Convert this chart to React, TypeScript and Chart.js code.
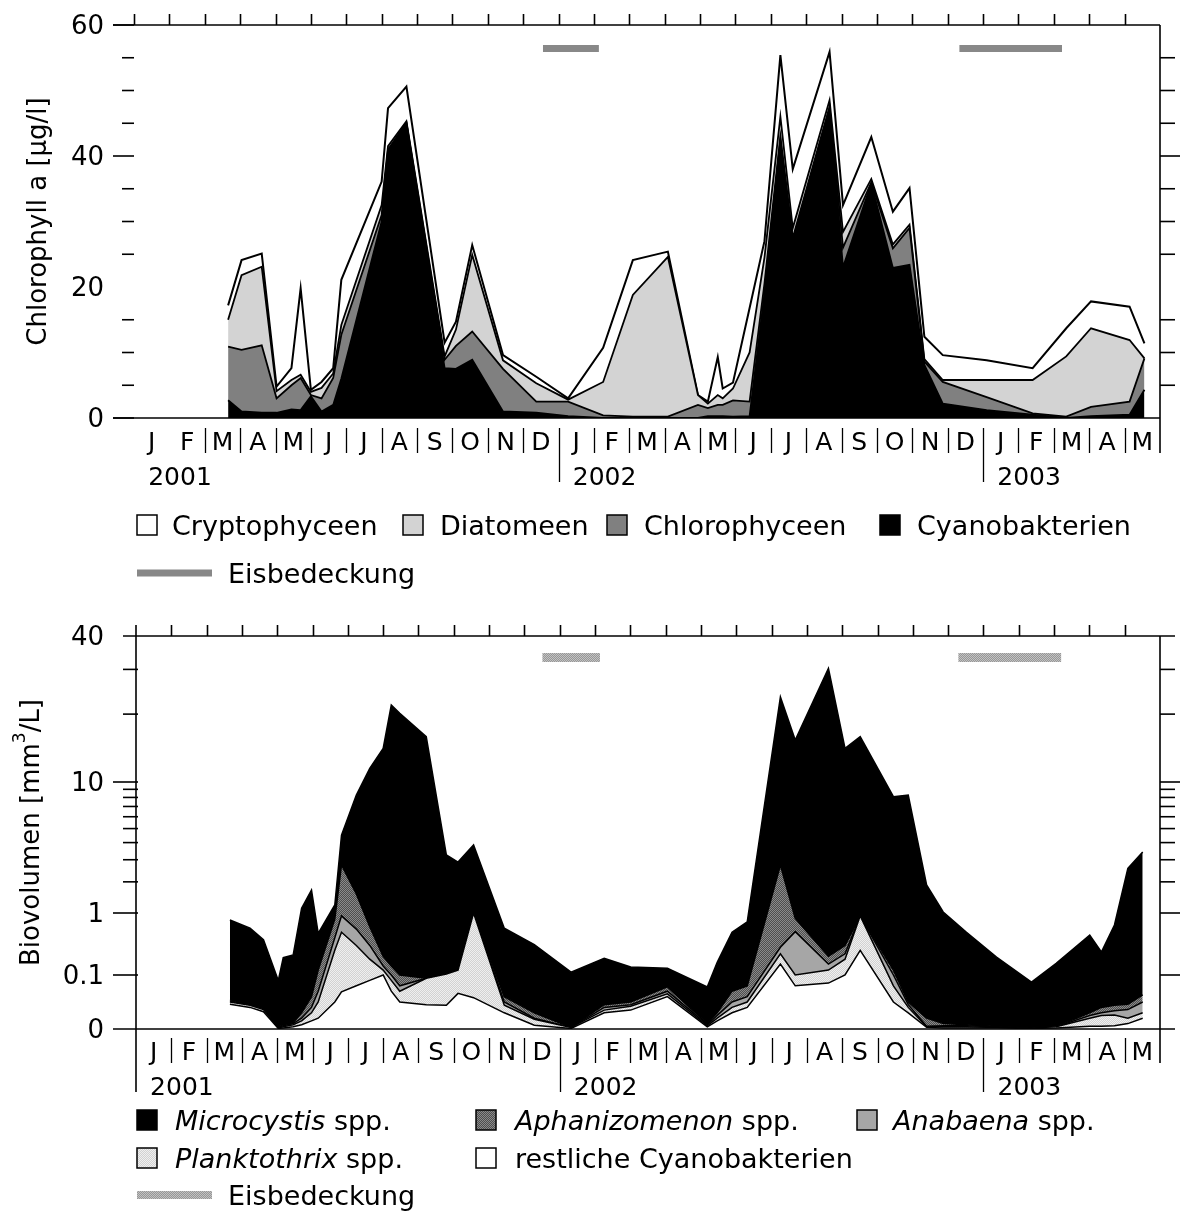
import React, { useEffect, useRef } from 'react';
import { Chart, registerables, LinearScale } from 'chart.js';

Chart.register(...registerables);

// ---------------- data ----------------
const MONTH_LABELS = ['J','F','M','A','M','J','J','A','S','O','N','D','J','F','M','A','M','J','J','A','S','O','N','D','J','F','M','A','M'];
const YEAR_LABELS = ['2001', '2002', '2003'];
const YEAR_START_MONTHS = [0, 12, 24];

// Chlorophyll a (µg/l), x = months since Jan 2001
const CHL_MONTHS = [2.66, 3.04, 3.61, 4.03, 4.45, 4.71, 5.0, 5.3, 5.63, 5.86, 7.0, 7.18, 7.7, 8.78, 9.1, 9.56, 10.43, 11.37, 12.27, 13.26, 14.1, 15.09, 15.94, 16.22, 16.5, 16.64, 16.93, 17.4, 17.82, 18.27, 18.62, 19.66, 20.04, 20.84, 21.45, 21.92, 22.34, 22.86, 24.1, 25.4, 26.35, 27.05, 28.14, 28.56];
const CHL_CYANO = [2.7, 1.0, 0.8, 0.8, 1.3, 1.2, 3.3, 1.0, 2.0, 6.0, 30.0, 40.7, 45.0, 7.6, 7.5, 8.9, 1.0, 0.8, 0.3, 0, 0, 0, 0, 0.3, 0.3, 0.3, 0.2, 0.3, 19, 42.5, 27, 47.3, 23, 35.8, 22.9, 23.4, 8.1, 2.2, 1.2, 0.5, 0, 0.3, 0.5, 4.3];
const CHL_CHLORO = [8.2, 9.4, 10.3, 2.2, 3.7, 4.9, 0.2, 2.0, 4.1, 6.7, 1.0, 0.3, 0.1, 1.3, 3.5, 4.3, 6.5, 1.7, 2.2, 0.4, 0.2, 0.2, 2.0, 1.2, 1.7, 1.7, 2.5, 2.2, 1.5, 0.5, 0.5, 0.2, 3.0, 0.2, 3.0, 5.6, 0.5, 3.3, 2.0, 0.2, 0.2, 1.4, 2.0, 4.8];
const CHL_DIATOM = [4.1, 11.4, 12.0, 1.1, 0.8, 0.5, 0.5, 1.6, 0.7, 1.5, 1.5, 0.5, 0.2, 0.5, 2.5, 11.7, 1.3, 2.8, 0.3, 5.1, 18.6, 24.4, 1.5, 0.7, 1.5, 1.0, 1.8, 7.5, 4.0, 3.0, 1.5, 1.0, 2.4, 0.5, 0.6, 0.5, 0.4, 0.3, 2.6, 5.1, 9.2, 12.0, 9.4, 0];
const CHL_CRYPTO = [2.2, 2.3, 2.0, 0.7, 1.8, 13.2, 0.3, 0.9, 0.8, 6.9, 3.6, 5.8, 5.3, 2.1, 1.2, 1.5, 0.8, 1.0, 0.2, 5.2, 5.3, 0.8, 0, 0.3, 5.8, 1.5, 0.9, 6.8, 2.5, 9.4, 9.0, 7.4, 4.1, 6.4, 5.0, 5.6, 3.4, 3.8, 3.0, 1.8, 4.3, 4.1, 5.1, 2.3];
const CHL_ICE_PERIODS = [[11.56, 13.14], [23.33, 26.23]];
const CHL_ICE_LEVEL = 56.4;
const CHL_TICK_LABELS = [0, 20, 40, 60];
const CHL_LONG_TICKS = [0, 40, 60];
const CHL_MINOR_TICKS = [5, 10, 15, 25, 30, 35, 45, 50, 55];

// Biovolume (mm³/L)
const BV_MONTHS = [2.66, 3.23, 3.61, 4.03, 4.17, 4.45, 4.69, 4.97, 5.16, 5.63, 5.82, 6.24, 6.62, 7.0, 7.23, 7.47, 8.22, 8.79, 9.12, 9.56, 10.43, 11.28, 12.32, 13.26, 14.01, 15.05, 16.18, 16.46, 16.88, 17.31, 18.25, 18.67, 19.61, 20.08, 20.51, 21.45, 21.87, 22.39, 22.86, 23.52, 24.37, 25.36, 26.06, 27.01, 27.34, 27.71, 28.09, 28.51];
const BV_MICRO = [0.716, 0.524, 0.332, 0.086, 0.182, 0.198, 1.1, 1.64, 0.35, 0.42, 1.78, 6.73, 11.03, 14.13, 21.63, 20.05, 16.0, 3.15, 2.76, 2.85, 0.51, 0.28, 0.108, 0.141, 0.085, 0.05, 0.068, 0.13, 0.42, 0.64, 20.7, 14.76, 30.09, 14.03, 15.19, 7.97, 8.24, 1.86, 1.016, 0.482, 0.19, 0.085, 0.15, 0.41, 0.195, 0.596, 2.53, 3.36];
const BV_APHAN = [0.002, 0.001, 0.001, 0.001, 0.002, 0.002, 0.01, 0.02, 0.05, 0.4, 1.835, 1.015, 0.3, 0.06, 0.04, 0.02, 0, 0, 0, 0, 0.01, 0.01, 0, 0.005, 0.005, 0.008, 0.002, 0.005, 0.02, 0.02, 2.455, 0.32, 0.05, 0.08, 0, 0.02, 0.005, 0.015, 0.004, 0.002, 0.001, 0, 0, 0.005, 0.01, 0.01, 0.01, 0.013];
const BV_ANAB = [0.002, 0.001, 0.001, 0.001, 0.002, 0.002, 0.005, 0.01, 0.02, 0.15, 0.41, 0.25, 0.12, 0.02, 0.01, 0.01, 0, 0, 0, 0, 0.006, 0.002, 0, 0.005, 0.003, 0.005, 0.002, 0.005, 0.01, 0.01, 0.06, 0.4, 0.03, 0.04, 0, 0.02, 0.005, 0.001, 0.002, 0.002, 0.001, 0, 0, 0.005, 0.005, 0.008, 0.016, 0.02];
const BV_PLANK = [0.004, 0.004, 0.004, 0.001, 0.002, 0.004, 0.007, 0.015, 0.03, 0.2, 0.42, 0.22, 0.09, 0.02, 0.02, 0.02, 0.049, 0.06, 0.054, 0.94, 0.014, 0.011, 0.002, 0.005, 0.007, 0.005, 0.002, 0.005, 0.01, 0.01, 0.07, 0.02, 0.035, 0.08, 0.65, 0.03, 0.01, 0.001, 0.002, 0.002, 0.001, 0.001, 0.002, 0.015, 0.02, 0.02, 0.01, 0.01];
const BV_REST = [0.046, 0.04, 0.032, 0.001, 0.002, 0.004, 0.008, 0.015, 0.02, 0.05, 0.069, 0.08, 0.09, 0.1, 0.07, 0.05, 0.045, 0.044, 0.066, 0.058, 0.03, 0.007, 0.001, 0.03, 0.035, 0.06, 0.004, 0.015, 0.03, 0.04, 0.15, 0.08, 0.085, 0.1, 0.25, 0.05, 0.03, 0.003, 0.002, 0.002, 0.002, 0.001, 0.002, 0.005, 0.005, 0.006, 0.01, 0.02];
const BV_ICE_PERIODS = [[11.51, 13.14], [23.29, 26.2]];
const BV_ICE_LEVEL = 33.3;
const BV_TICK_LABELS = [0, 0.1, 1, 10, 40];
const BV_MINOR_TICKS = [2, 3, 4, 5, 6, 7, 8, 9, 20, 30];

// ---------------- custom biovolume axis ----------------
const LOG = Math.log10;
const BIO_SPAN = 393;
function bioHeight(v: number): number {
  if (v <= 0) return 0;
  if (v <= 0.1) return 54 * v / 0.1;
  if (v <= 1) return 54 + 62 * LOG(v / 0.1);
  if (v <= 10) return 116 + 131 * LOG((v + 1) / 2) / LOG(5.5);
  return 247 + 146 * LOG((v + 5) / 15) / LOG(3);
}
function bioValue(h: number): number {
  if (h <= 0) return 0;
  if (h <= 54) return 0.1 * h / 54;
  if (h <= 116) return 0.1 * Math.pow(10, (h - 54) / 62);
  if (h <= 247) return 2 * Math.pow(5.5, (h - 116) / 131) - 1;
  return 15 * Math.pow(3, (h - 247) / 146) - 5;
}

class BioScale extends LinearScale {
  static id = 'biovolume';
  static defaults = {};
  getPixelForValue(value: any) {
    if (value === null || value === undefined || Number.isNaN(+value)) return NaN;
    return this.getPixelForDecimal(bioHeight(+value) / BIO_SPAN);
  }
  getValueForPixel(pixel: number) {
    return bioValue(this.getDecimalForPixel(pixel) * BIO_SPAN);
  }
}
Chart.register(BioScale);

// ---------------- drawing helpers ----------------
const FONT = '"DejaVu Sans", "Liberation Sans", Arial, sans-serif';
const MONTH_FONT = 25;
const LEGEND_FONT = 27;

function hl(ctx: CanvasRenderingContext2D, x1: number, x2: number, y: number) {
  ctx.beginPath(); ctx.moveTo(x1, y); ctx.lineTo(x2, y); ctx.stroke();
}
function vl(ctx: CanvasRenderingContext2D, x: number, y1: number, y2: number) {
  ctx.beginPath(); ctx.moveTo(x, y1); ctx.lineTo(x, y2); ctx.stroke();
}
function capText(ctx: CanvasRenderingContext2D, text: string, x: number, yc: number, size: number, align: CanvasTextAlign = 'center', style = '') {
  ctx.font = `${style}${size}px ${FONT}`;
  ctx.textAlign = align;
  ctx.textBaseline = 'alphabetic';
  ctx.fillText(text, x, yc + size * 0.36);
}
function drawMonthRow(ctx: CanvasRenderingContext2D, xs: any, rowY: number, sepTop: number, sepBot: number, longBot: number, firstSep: number, lastSep: number, yearY: number) {
  ctx.fillStyle = '#000';
  ctx.strokeStyle = '#000';
  ctx.lineWidth = 1.3;
  MONTH_LABELS.forEach((lab, i) => capText(ctx, lab, xs.getPixelForValue(i + 0.5), rowY, MONTH_FONT));
  for (let m = firstSep; m <= lastSep; m++) {
    const x = Math.round(xs.getPixelForValue(m)) + 0.5;
    vl(ctx, x, sepTop, YEAR_START_MONTHS.includes(m) ? longBot : sepBot);
  }
  YEAR_LABELS.forEach((lab, i) => capText(ctx, lab, xs.getPixelForValue(YEAR_START_MONTHS[i] + 1.3), yearY, MONTH_FONT));
}
function legendBox(ctx: CanvasRenderingContext2D, x: number, y: number, fill: any) {
  ctx.fillStyle = fill;
  ctx.fillRect(x, y - 10, 20, 20);
  ctx.strokeStyle = '#000';
  ctx.lineWidth = 1.5;
  ctx.strokeRect(x, y - 10, 20, 20);
}
function legendLabel(ctx: CanvasRenderingContext2D, x: number, y: number, italic: string, normal: string) {
  ctx.fillStyle = '#000';
  let dx = 0;
  if (italic) {
    capText(ctx, italic, x, y, LEGEND_FONT, 'left', 'italic ');
    dx = ctx.measureText(italic).width;
  }
  capText(ctx, normal, x + dx, y, LEGEND_FONT, 'left');
}
function legendIce(ctx: CanvasRenderingContext2D, x: number, y: number, color: any, width: number) {
  ctx.strokeStyle = color;
  ctx.lineWidth = width;
  ctx.lineCap = 'butt';
  hl(ctx, x, x + 75, y);
}

function makeChecker(a: string, b: string) {
  const c = document.createElement('canvas');
  c.width = 2; c.height = 2;
  const g = c.getContext('2d')!;
  g.fillStyle = a; g.fillRect(0, 0, 2, 2);
  g.fillStyle = b; g.fillRect(0, 0, 1, 1); g.fillRect(1, 1, 1, 1);
  return g.createPattern(c, 'repeat')!;
}

function area(label: string, xs: number[], ys: number[], fill: any, fillMode: any, width: number) {
  return {
    label,
    data: xs.map((x, i) => ({ x, y: ys[i] })),
    backgroundColor: fill,
    borderColor: '#000',
    borderWidth: width,
    fill: fillMode,
    pointRadius: 0,
    tension: 0,
    borderJoinStyle: 'miter' as const,
  };
}
function iceSets(periods: number[][], level: number, color: any, width: number) {
  return periods.map((p, i) => ({
    label: 'Eisbedeckung',
    data: p.map((x) => ({ x, y: level })),
    borderColor: color,
    backgroundColor: color,
    borderWidth: width,
    borderCapStyle: 'butt' as const,
    fill: false,
    pointRadius: 0,
    stack: 'ice' + i,
  }));
}

export default function App() {
  const topRef = useRef<HTMLCanvasElement>(null);
  const botRef = useRef<HTMLCanvasElement>(null);

  useEffect(() => {
    const aphanPat = makeChecker('#4e4e4e', '#8a8a8a');
    const plankPat = makeChecker('#d2d2d2', '#efefef');
    const icePat = makeChecker('#979797', '#c2c2c2');
    const DIATOM = '#d3d3d3';
    const CHLORO = '#808080';
    const ANAB = '#a6a6a6';

    const topFrame = {
      id: 'topFrame',
      afterDraw(chart: any) {
        const ctx: CanvasRenderingContext2D = chart.ctx;
        const ca = chart.chartArea;
        const xs = chart.scales.x;
        const ys = chart.scales.y;
        ctx.save();
        ctx.strokeStyle = '#000';
        ctx.lineWidth = 1.6;
        hl(ctx, ca.left - 21, ca.right, ca.top);
        hl(ctx, ca.left - 21, ca.right, ca.bottom);
        vl(ctx, ca.right, ca.top, ca.bottom + 35);
        CHL_LONG_TICKS.forEach((v) => hl(ctx, ca.left - 21, ca.left, ys.getPixelForValue(v)));
        CHL_MINOR_TICKS.forEach((v) => {
          const y = ys.getPixelForValue(v);
          hl(ctx, ca.left - 12, ca.left, y);
          hl(ctx, ca.right, ca.right + 15, y);
        });
        hl(ctx, ca.right, ca.right + 20, ys.getPixelForValue(40));
        for (let m = 0; m < MONTH_LABELS.length; m++) {
          const x = Math.round(xs.getPixelForValue(m)) + 0.5;
          vl(ctx, x, ca.top - 11, ca.top);
        }
        ctx.fillStyle = '#000';
        CHL_TICK_LABELS.forEach((v) => capText(ctx, String(v), 104, ys.getPixelForValue(v), 26, 'right'));
        ctx.save();
        ctx.translate(37, (ca.top + ca.bottom) / 2);
        ctx.rotate(-Math.PI / 2);
        capText(ctx, 'Chlorophyll a [µg/l]', 0, 0, 26, 'center');
        ctx.restore();
        drawMonthRow(ctx, xs, 441, 428, 453, 482, 2, 28, 476);
        // legend
        const L1 = 525;
        legendBox(ctx, 137, L1, '#fff'); legendLabel(ctx, 172, L1, '', 'Cryptophyceen');
        legendBox(ctx, 403, L1, DIATOM); legendLabel(ctx, 440, L1, '', 'Diatomeen');
        legendBox(ctx, 607, L1, CHLORO); legendLabel(ctx, 644, L1, '', 'Chlorophyceen');
        legendBox(ctx, 880, L1, '#000'); legendLabel(ctx, 917, L1, '', 'Cyanobakterien');
        legendIce(ctx, 137, 573, '#888', 7);
        legendLabel(ctx, 228, 573, '', 'Eisbedeckung');
        ctx.restore();
      },
    };

    const botFrame = {
      id: 'botFrame',
      afterDraw(chart: any) {
        const ctx: CanvasRenderingContext2D = chart.ctx;
        const ca = chart.chartArea;
        const xs = chart.scales.x;
        const ys = chart.scales.y;
        ctx.save();
        ctx.strokeStyle = '#000';
        ctx.lineWidth = 1.6;
        hl(ctx, ca.left - 13, ca.right + 15, ca.top);
        hl(ctx, ca.left - 23, ca.right + 15, ca.bottom);
        vl(ctx, ca.left, ca.top - 11, ca.bottom + 63);
        vl(ctx, ca.right, ca.top, ca.bottom + 34);
        BV_TICK_LABELS.forEach((v) => {
          if (v === 0 || v === 40) return;
          const y = ys.getPixelForValue(v);
          hl(ctx, ca.left - 23, ca.left + 2, y);
          hl(ctx, ca.right, ca.right + 20, y);
        });
        BV_MINOR_TICKS.forEach((v) => {
          const y = ys.getPixelForValue(v);
          hl(ctx, ca.left - 13, ca.left + 2, y);
          hl(ctx, ca.right, ca.right + 15, y);
        });
        for (let m = 1; m < MONTH_LABELS.length; m++) {
          const x = Math.round(xs.getPixelForValue(m)) + 0.5;
          vl(ctx, x, ca.top - 11, ca.top);
        }
        ctx.fillStyle = '#000';
        BV_TICK_LABELS.forEach((v) => capText(ctx, String(v), 104, ys.getPixelForValue(v), 26, 'right'));
        // axis title with superscript
        ctx.save();
        ctx.translate(30, (ca.top + ca.bottom) / 2);
        ctx.rotate(-Math.PI / 2);
        ctx.font = `26px ${FONT}`;
        const p1 = 'Biovolumen [mm';
        const p3 = '/L]';
        const w1 = ctx.measureText(p1).width;
        const w3 = ctx.measureText(p3).width;
        ctx.font = `17px ${FONT}`;
        const w2 = ctx.measureText('3').width;
        const x0 = -(w1 + w2 + w3) / 2;
        capText(ctx, p1, x0, 0, 26, 'left');
        capText(ctx, '3', x0 + w1, -11, 17, 'left');
        capText(ctx, p3, x0 + w1 + w2, 0, 26, 'left');
        ctx.restore();
        drawMonthRow(ctx, xs, 451, 438, 463, 492, 1, 28, 486);
        // legend
        const R1 = 520, R2 = 558, R3 = 595;
        legendBox(ctx, 137, R1, '#000'); legendLabel(ctx, 175, R1, 'Microcystis', ' spp.');
        legendBox(ctx, 476, R1, aphanPat); legendLabel(ctx, 515, R1, 'Aphanizomenon', ' spp.');
        legendBox(ctx, 857, R1, ANAB); legendLabel(ctx, 893, R1, 'Anabaena', ' spp.');
        legendBox(ctx, 137, R2, plankPat); legendLabel(ctx, 175, R2, 'Planktothrix', ' spp.');
        legendBox(ctx, 476, R2, '#fff'); legendLabel(ctx, 515, R2, '', 'restliche Cyanobakterien');
        legendIce(ctx, 137, R3, icePat, 8);
        legendLabel(ctx, 228, R3, '', 'Eisbedeckung');
        ctx.restore();
      },
    };

    const commonOpts = {
      responsive: false,
      animation: false as const,
      devicePixelRatio: 1,
      events: [] as any[],
      plugins: { legend: { display: false }, tooltip: { enabled: false }, title: { display: false } },
      elements: { point: { radius: 0 }, line: { tension: 0 } },
    };

    const topChart = new Chart(topRef.current!, {
      type: 'line',
      data: {
        datasets: [
          area('Cyanobakterien', CHL_MONTHS, CHL_CYANO, '#000', 'origin', 1.8),
          area('Chlorophyceen', CHL_MONTHS, CHL_CHLORO, CHLORO, '-1', 1.8),
          area('Diatomeen', CHL_MONTHS, CHL_DIATOM, DIATOM, '-1', 1.8),
          area('Cryptophyceen', CHL_MONTHS, CHL_CRYPTO, '#fff', '-1', 2),
          ...iceSets(CHL_ICE_PERIODS, CHL_ICE_LEVEL, '#888', 7),
        ] as any,
      },
      options: {
        ...commonOpts,
        layout: { padding: { left: 134, right: 30, top: 25, bottom: 182 } },
        scales: {
          x: { type: 'linear', min: 0, max: MONTH_LABELS.length, display: false },
          y: { type: 'linear', min: 0, max: 60, display: false, stacked: true },
        },
      } as any,
      plugins: [topFrame],
    });

    const botChart = new Chart(botRef.current!, {
      type: 'line',
      data: {
        datasets: [
          area('restliche Cyanobakterien', BV_MONTHS, BV_REST, '#fff', 'origin', 1.5),
          area('Planktothrix spp.', BV_MONTHS, BV_PLANK, plankPat, '-1', 1.5),
          area('Anabaena spp.', BV_MONTHS, BV_ANAB, ANAB, '-1', 1.5),
          area('Aphanizomenon spp.', BV_MONTHS, BV_APHAN, aphanPat, '-1', 1.5),
          area('Microcystis spp.', BV_MONTHS, BV_MICRO, '#000', '-1', 1.5),
          ...iceSets(BV_ICE_PERIODS, BV_ICE_LEVEL, icePat, 9),
        ] as any,
      },
      options: {
        ...commonOpts,
        layout: { padding: { left: 136, right: 30, top: 36, bottom: 189 } },
        scales: {
          x: { type: 'linear', min: 0, max: MONTH_LABELS.length, display: false },
          y: { type: 'biovolume', min: 0, max: 40, display: false, stacked: true },
        },
      } as any,
      plugins: [botFrame],
    });

    return () => {
      topChart.destroy();
      botChart.destroy();
    };
  }, []);

  return (
    <div style={{ position: 'fixed', left: 0, top: 0, width: 1190, height: 1218, background: '#fff', overflow: 'hidden' }}>
      <canvas ref={topRef} width={1190} height={600} style={{ position: 'absolute', left: 0, top: 0 }} />
      <canvas ref={botRef} width={1190} height={618} style={{ position: 'absolute', left: 0, top: 600 }} />
    </div>
  );
}
